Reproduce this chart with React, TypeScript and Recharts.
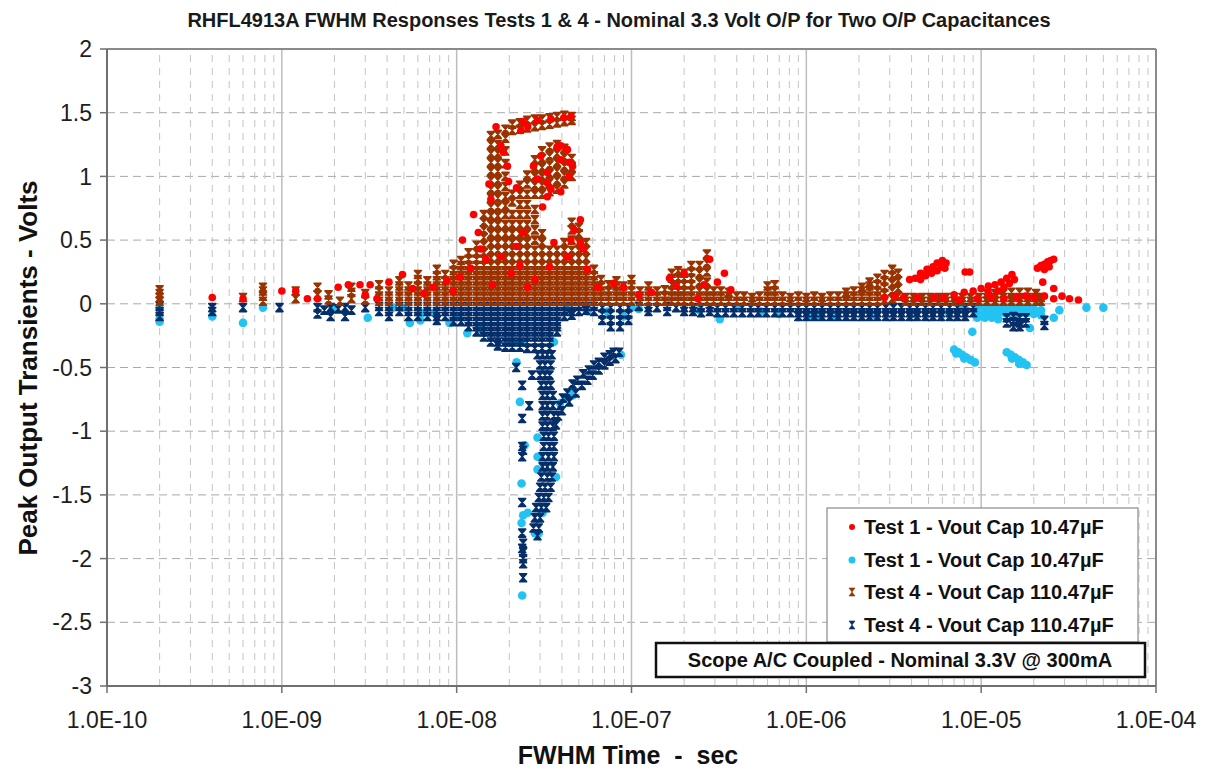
import React from "react";
import { ScatterChart, Scatter, XAxis, YAxis, CartesianGrid, ReferenceLine } from "recharts";

type Col = [number, number[]];
type Pt = [number, number];

const chartTitle = "RHFL4913A FWHM Responses Tests 1 & 4 - Nominal 3.3 Volt O/P for Two O/P Capacitances";
const xTitle = "FWHM Time  -  sec";
const yTitle = "Peak Output Transients - Volts";
const noteText = "Scope A/C Coupled - Nominal 3.3V @ 300mA";
const seriesNames = [
  "Test 1 - Vout Cap 10.47µF",
  "Test 1 - Vout Cap 10.47µF",
  "Test 4 - Vout Cap 110.47µF",
  "Test 4 - Vout Cap 110.47µF",
];
const seriesColors = ["#ff0000", "#22c3f3", "#993300", "#062f6a"];

const xTicks = [1e-10, 1e-9, 1e-8, 1e-7, 1e-6, 1e-5, 1e-4];
const yTicks = [-3, -2.5, -2, -1.5, -1, -0.5, 0, 0.5, 1, 1.5, 2];
const decadeLines = [1e-9, 1e-8, 1e-7, 1e-6, 1e-5];
const minorDecades = [1e-10, 1e-9, 1e-8, 1e-7, 1e-6, 1e-5];
const minorMultipliers = [2, 3, 4, 5, 6, 7, 8, 9];

// Test 1 positive peaks (red)
const test1Pos: Pt[] = [
  [4e-10,0.05],[6e-10,0.04],[1e-9,0.1],[1.2e-9,0.1],[1.4e-9,0.04],[1.6e-9,0.04],[2.1e-9,0.13],[2.4e-9,0.15],[2.8e-9,0.15],[3e-9,0.07],[3.2e-9,0.15],[3.5e-9,0.04],[4.1e-9,0.17],[4.9e-9,0.23],[5.6e-9,0.12],[6.5e-9,0.08],[7.3e-9,0.13],[8.8e-9,0.18],[9.5e-9,0.1],[1.04e-8,0.21],
  [1.08e-8,0.5],[1.2e-8,0.28],[1.25e-8,0.7],[1.33e-8,0.56],[1.37e-8,0.43],[1.47e-8,0.35],[1.53e-8,0.94],[1.57e-8,0.82],[1.6e-8,0.15],[1.68e-8,1.39],[1.79e-8,1.24],[1.79e-8,0.37],[1.85e-8,1.19],[1.95e-8,1.08],[1.98e-8,0.96],[2.05e-8,0.24],[2.2e-8,0.91],[2.2e-8,0.45],[2.3e-8,0.3],
  [2.33e-8,1.36],[2.4e-8,1.43],[2.4e-8,0.56],[2.55e-8,1.39],[2.55e-8,0.13],[2.75e-8,1.08],[2.8e-8,0.19],[2.9e-8,1.44],[2.9e-8,0.98],[3.03e-8,1.16],[3.1e-8,0.76],[3.3e-8,0.95],[3.3e-8,1.03],[3.3e-8,0.84],[3.4e-8,0.29],[3.46e-8,1.45],[3.46e-8,0.9],[3.6e-8,0.48],
  [3.75e-8,1.23],[3.94e-8,1.24],[3.94e-8,1.13],[3.94e-8,0.88],[4.1e-8,1.46],[4.3e-8,1.21],[4.3e-8,0.37],[4.4e-8,1.11],[4.4e-8,1.0],[4.5e-8,1.47],[4.6e-8,1.08],[4.7e-8,0.58],[4.5e-8,0.5],[5.1e-8,0.66],[5.1e-8,0.48],[5.3e-8,0.43],[5.6e-8,0.27],[6.4e-8,0.13],[7.9e-8,0.16],[9e-8,0.13],
  [1.1e-7,0.07],[1.3e-7,0.09],[1.65e-7,0.2],[1.8e-7,0.14],[2e-7,0.24],[2.4e-7,0.04],[2.6e-7,0.15],[2.8e-7,0.35],[3.1e-7,0.17],[3.4e-7,0.24],[3.7e-7,0.11],
  [2.8e-6,0.05],[3.2e-6,0.06],[3.6e-6,0.05],[4.3e-6,0.05],[5.4e-6,0.05],[6.1e-6,0.05],
  [3.9e-6,0.19],[4.2e-6,0.2],[4.5e-6,0.19],[4.5e-6,0.24],[4.8e-6,0.22],[4.9e-6,0.27],[5.2e-6,0.24],[5.3e-6,0.29],[5.6e-6,0.26],[5.6e-6,0.32],[5.9e-6,0.29],[6e-6,0.34],[6.3e-6,0.32],[6.2e-6,0.28],
  [8.1e-6,0.25],[8.6e-6,0.25],
  [7e-6,0.07],[8e-6,0.09],[9e-6,0.1],[1e-5,0.12],[1.1e-5,0.14],[1.2e-5,0.15],[1.3e-5,0.17],[1.4e-5,0.2],[1.5e-5,0.23],[1.45e-5,0.16],[1.25e-5,0.1],[1.1e-5,0.08],[1.55e-5,0.19],[1.35e-5,0.13],
  [7.5e-6,0.03],[9.5e-6,0.04],[1.15e-5,0.05],[1.35e-5,0.04],[1.6e-5,0.05],[1.8e-5,0.06],[2e-5,0.05],[2.25e-5,0.17],[2.6e-5,0.12],[2.6e-5,0.04],[2.3e-5,0.06],[2.9e-5,0.06],[3.2e-5,0.04],[3.6e-5,0.03],
  [2.1e-5,0.28],[2.2e-5,0.3],[2.3e-5,0.31],[2.4e-5,0.33],[2.5e-5,0.34],[2.6e-5,0.35],[2.3e-5,0.27],[2.45e-5,0.29],
];

// Test 1 negative peaks (light blue)
const test1Neg: Pt[] = [
  [2e-10,-0.04],[2e-10,-0.08],[2e-10,-0.12],[2e-10,-0.14],[4e-10,-0.1],[6e-10,-0.15],[7.8e-10,-0.03],[1.95e-9,-0.03],[3.1e-9,-0.11],[4.3e-9,-0.03],[4.9e-9,-0.03],[5.4e-9,-0.15],[6.2e-9,-0.13],[6.4e-9,-0.07],[7.4e-9,-0.07],[9.1e-9,-0.15],[1e-8,-0.1],[1.15e-8,-0.23],[1.37e-8,-0.2],
  [2.05e-8,-0.3],[2.2e-8,-0.3],[2.4e-8,-0.3],[2.2e-8,-0.46],[2.3e-8,-0.77],[2.45e-8,-1.11],[2.35e-8,-1.41],[2.35e-8,-1.72],[2.8e-8,-1.8],[2.37e-8,-2.29],[2.4e-8,-1.66],[2.55e-8,-1.64],[2.95e-8,-1.8],[3.1e-8,-1.64],[2.9e-8,-1.05],[2.9e-8,-1.2],[2.9e-8,-1.3],[3.7e-8,-1.36],[3.6e-8,-0.3],
  [3.9e-8,-0.78],[4.2e-8,-0.74],[4.5e-8,-0.69],[4.6e-8,-0.72],[8.7e-8,-0.4],[4.3e-8,-0.05],[5.6e-8,-0.06],[7.3e-8,-0.06],[9e-8,-0.1],[1e-7,-0.03],[1.1e-7,-0.04],
  [2.45e-7,-0.05],[3.2e-7,-0.12],[4e-7,-0.03],[5.5e-7,-0.06],[7e-7,-0.08],[1.04e-6,-0.1],[1.2e-6,-0.1],[1.5e-6,-0.1],[2.5e-6,-0.09],[4e-6,-0.08],[6.5e-6,-0.07],
  [7.6e-6,-0.02],[8.2e-6,-0.05],[8.9e-6,-0.22],[9.5e-6,-0.03],[9.5e-6,-0.07],[9.5e-6,-0.11],[1.05e-5,-0.03],[1.05e-5,-0.07],[1.05e-5,-0.11],[1.15e-5,-0.03],[1.15e-5,-0.07],[1.15e-5,-0.11],[1.25e-5,-0.03],[1.25e-5,-0.07],[1.25e-5,-0.12],
  [1.35e-5,-0.03],[1.35e-5,-0.07],[1.45e-5,-0.03],[1.45e-5,-0.07],[1.55e-5,-0.03],[1.55e-5,-0.07],[1.7e-5,-0.03],[1.7e-5,-0.07],[1.85e-5,-0.03],[1.85e-5,-0.07],[2e-5,-0.04],[2e-5,-0.08],[2.2e-5,-0.05],[2.2e-5,-0.09],[1.9e-5,-0.19],[2.6e-5,-0.11],[2.8e-5,-0.05],[4e-5,-0.03],[5e-5,-0.03],
  [7e-6,-0.36],[7.2e-6,-0.39],[7.4e-6,-0.38],[7.8e-6,-0.4],[8e-6,-0.43],[8.2e-6,-0.42],[8.7e-6,-0.44],[9.2e-6,-0.46],
  [1.4e-5,-0.38],[1.48e-5,-0.4],[1.5e-5,-0.43],[1.56e-5,-0.42],[1.64e-5,-0.44],[1.65e-5,-0.47],[1.73e-5,-0.46],[1.82e-5,-0.48],
];

// Test 4 positive peaks (brown)
const test4PosCols: Col[] = [
  [2e-10,[0.02,0.05,0.08,0.11]],[6e-10,[0.05]],[7.8e-10,[0.02,0.06,0.1,0.13]],[1.2e-9,[0.04,0.1]],[1.6e-9,[0.07,0.13]],[1.85e-9,[0.03,0.07]],[2.15e-9,[0.02]],[2.5e-9,[0.04,0.09,0.13]],[3.0e-9,[0.03,0.08]],
  [3.6e-9,[0.02,0.06,0.1,0.15]],[4.1e-9,[0.02,0.06,0.1]],[4.7e-9,[0.02,0.06,0.1,0.14,0.18]],[5.3e-9,[0.02,0.06,0.1,0.14]],[6.0e-9,[0.02,0.06,0.1,0.14,0.19,0.23]],[6.8e-9,[0.02,0.06,0.1,0.14,0.18]],
  [7.7e-9,[0.02,0.06,0.1,0.14,0.18,0.22,0.27]],[8.6e-9,[0.02,0.06,0.1,0.14,0.18,0.23]],[9.6e-9,[0.02,0.06,0.1,0.14,0.18,0.22,0.26,0.31]],[10.6e-9,[0.02,0.06,0.1,0.14,0.18,0.22,0.26,0.3,0.34]],
  [11.7e-9,[0.02,0.06,0.1,0.14,0.18,0.22,0.26,0.3,0.35,0.4]],[13e-9,[0.02,0.06,0.1,0.14,0.18,0.22,0.26,0.3,0.35,0.4,0.46]],
  [14.3e-9,[0.02,0.06,0.1,0.14,0.18,0.22,0.26,0.3,0.35,0.4,0.46,0.52,0.58,0.64,0.7]],
  [15.7e-9,[0.02,0.06,0.1,0.14,0.18,0.22,0.26,0.3,0.36,0.42,0.48,0.55,0.62,0.69,0.76,0.83,0.9,0.97,1.04,1.11,1.18,1.25,1.32]],
  [17.2e-9,[0.02,0.06,0.1,0.14,0.18,0.22,0.26,0.3,0.36,0.42,0.48,0.55,0.62,0.69,0.76,0.83,0.9,0.97,1.04,1.11,1.18,1.25,1.33]],
  [19e-9,[0.02,0.06,0.1,0.14,0.18,0.22,0.26,0.3,0.36,0.42,0.48,0.55,0.62,0.7,0.77,0.84,0.92,1.0,1.1,1.2,1.3,1.37]],
  [20.8e-9,[0.02,0.06,0.1,0.14,0.18,0.22,0.26,0.3,0.36,0.42,0.48,0.55,0.62,0.7,0.8,0.86,1.36,1.41]],
  [23e-9,[0.02,0.06,0.1,0.14,0.18,0.22,0.26,0.3,0.36,0.42,0.48,0.55,0.62,0.7,0.78,0.86,0.93,1.37,1.42]],
  [25.3e-9,[0.02,0.06,0.1,0.14,0.18,0.22,0.26,0.3,0.36,0.42,0.48,0.55,0.62,0.7,0.78,0.86,0.94,1.01,1.38,1.44]],
  [28e-9,[0.02,0.06,0.1,0.14,0.18,0.22,0.26,0.3,0.36,0.42,0.5,0.58,0.66,0.74,0.86,0.93,1.0,1.07,1.13,1.39,1.45]],
  [30.8e-9,[0.02,0.06,0.1,0.14,0.18,0.22,0.26,0.3,0.36,0.42,0.48,0.55,0.86,0.93,1.0,1.07,1.14,1.2,1.4,1.45]],
  [34e-9,[0.02,0.06,0.1,0.14,0.18,0.22,0.26,0.3,0.36,0.42,0.88,0.95,1.02,1.09,1.16,1.23,1.41,1.46]],
  [37.5e-9,[0.02,0.06,0.1,0.14,0.18,0.22,0.26,0.3,0.36,0.42,0.9,0.97,1.04,1.11,1.18,1.25,1.42,1.47]],
  [41.3e-9,[0.02,0.06,0.1,0.14,0.18,0.22,0.26,0.3,0.36,0.42,0.48,0.94,1.01,1.08,1.15,1.22,1.43,1.48]],
  [45.5e-9,[0.02,0.06,0.1,0.14,0.18,0.22,0.26,0.3,0.36,0.42,0.5,0.58,0.64,1.0,1.07,1.14,1.44,1.47]],
  [50e-9,[0.02,0.06,0.1,0.14,0.18,0.22,0.26,0.3,0.36,0.42,0.48,0.55,0.6]],
  [55e-9,[0.02,0.06,0.1,0.14,0.18,0.22,0.26,0.3,0.36,0.42,0.48]],
  [61e-9,[0.02,0.06,0.1,0.14,0.18,0.22,0.27]],[67e-9,[0.02,0.06,0.1,0.14,0.19]],[74e-9,[0.02,0.06,0.1,0.15]],[82e-9,[0.02,0.06,0.1,0.14,0.18]],[90e-9,[0.02,0.06,0.1,0.14]],
  [100e-9,[0.02,0.06,0.1,0.15,0.19]],[112e-9,[0.02,0.06,0.1]],[125e-9,[0.02,0.06,0.1,0.14]],[140e-9,[0.02,0.06,0.1]],[155e-9,[0.02,0.06,0.11]],
  [170e-9,[0.02,0.06,0.1,0.15,0.2,0.24]],[185e-9,[0.02,0.06,0.1,0.15,0.2,0.26]],[200e-9,[0.02,0.06,0.1,0.15,0.2,0.24]],[220e-9,[0.02,0.06,0.1,0.15,0.2,0.25,0.3]],
  [245e-9,[0.02,0.06,0.1,0.17,0.24,0.3]],[270e-9,[0.02,0.06,0.1,0.17,0.25,0.32,0.39]],[295e-9,[0.02,0.06,0.1]],[325e-9,[0.02,0.06,0.1]],[360e-9,[0.02,0.06,0.09]],
  [400e-9,[0.02,0.06]],[440e-9,[0.02,0.06]],[490e-9,[0.02,0.05]],[540e-9,[0.02,0.06]],[600e-9,[0.02,0.06,0.1,0.14]],[660e-9,[0.02,0.06,0.1,0.15]],[730e-9,[0.02,0.06]],[810e-9,[0.02,0.05]],[900e-9,[0.02,0.06]],
  [1.0e-6,[0.02,0.05]],[1.11e-6,[0.02,0.06]],[1.23e-6,[0.02,0.05]],[1.37e-6,[0.02,0.06]],[1.52e-6,[0.02,0.06]],[1.69e-6,[0.02,0.06,0.09]],[1.87e-6,[0.02,0.06,0.1]],
  [2.08e-6,[0.02,0.06,0.1,0.13]],[2.3e-6,[0.02,0.06,0.1,0.14,0.17]],[2.55e-6,[0.02,0.06,0.1,0.15,0.2]],[2.8e-6,[0.03,0.08,0.13,0.18,0.23]],[3.1e-6,[0.04,0.1,0.16,0.22,0.27]],[3.35e-6,[0.06,0.12,0.18,0.24]],
  [3.7e-6,[0.02,0.05]],[4.1e-6,[0.02,0.05]],[4.6e-6,[0.02,0.05]],[5.1e-6,[0.02,0.05]],[5.7e-6,[0.02,0.05]],[6.3e-6,[0.02,0.05]],[7.0e-6,[0.02,0.05]],[7.8e-6,[0.02,0.05]],[8.7e-6,[0.02,0.05]],[9.7e-6,[0.02,0.05]],
  [10.8e-6,[0.02,0.05,0.08]],[12e-6,[0.02,0.05,0.08]],[13.4e-6,[0.02,0.05,0.08]],[14.9e-6,[0.02,0.05,0.09]],[16.6e-6,[0.02,0.05,0.09]],[18.5e-6,[0.02,0.05,0.09]],[20.6e-6,[0.02,0.05,0.08]],[22e-6,[0.02,0.05]],
];

// Test 4 negative peaks (dark blue) – dense bands by column
const test4NegCols: Col[] = [
  [2e-10,[-0.02,-0.06,-0.1]],[4e-10,[-0.03,-0.06]],[6e-10,[-0.03]],[9.7e-10,[-0.03]],[1.6e-9,[-0.03,-0.08]],[1.75e-9,[-0.05]],[1.9e-9,[-0.03,-0.1]],[2.1e-9,[-0.04]],[2.3e-9,[-0.03,-0.1]],[2.5e-9,[-0.05]],[3.0e-9,[-0.03]],
  [3.6e-9,[-0.02,-0.06]],[4.1e-9,[-0.02,-0.06,-0.1]],[4.7e-9,[-0.02,-0.06]],[5.3e-9,[-0.02,-0.06,-0.1]],[6.0e-9,[-0.02,-0.06,-0.1]],[6.8e-9,[-0.02,-0.06,-0.1]],[7.7e-9,[-0.02,-0.06,-0.1,-0.13]],[8.6e-9,[-0.02,-0.06,-0.1]],
  [9.6e-9,[-0.02,-0.06,-0.1,-0.14]],[10.6e-9,[-0.02,-0.06,-0.1,-0.14]],[11.7e-9,[-0.02,-0.06,-0.1,-0.14,-0.18]],[13e-9,[-0.02,-0.06,-0.1,-0.14,-0.18,-0.22]],[14.3e-9,[-0.02,-0.06,-0.1,-0.14,-0.18,-0.22,-0.26]],
  [15.7e-9,[-0.02,-0.06,-0.1,-0.14,-0.18,-0.22,-0.26,-0.3]],[17.2e-9,[-0.02,-0.06,-0.1,-0.14,-0.18,-0.22,-0.26,-0.3,-0.33]],[19e-9,[-0.02,-0.06,-0.1,-0.14,-0.18,-0.22,-0.26,-0.3,-0.34]],
  [20.8e-9,[-0.02,-0.06,-0.1,-0.14,-0.18,-0.22,-0.26,-0.3,-0.34]],[23e-9,[-0.02,-0.06,-0.1,-0.14,-0.18,-0.22,-0.26,-0.3,-0.34]],[25.3e-9,[-0.02,-0.06,-0.1,-0.14,-0.18,-0.22,-0.26,-0.3,-0.35]],
  [28e-9,[-0.02,-0.06,-0.1,-0.14,-0.18,-0.22,-0.26,-0.3,-0.35]],[30.8e-9,[-0.02,-0.06,-0.1,-0.14,-0.18,-0.22,-0.26,-0.3,-0.35]],[34e-9,[-0.02,-0.06,-0.1,-0.14,-0.18,-0.22,-0.26,-0.3,-0.35]],
  [37.5e-9,[-0.02,-0.06,-0.1,-0.14,-0.18,-0.22]],[41.3e-9,[-0.02,-0.06,-0.1]],[45.5e-9,[-0.02,-0.06,-0.09]],[50e-9,[-0.02,-0.06]],[55e-9,[-0.02,-0.05]],[61e-9,[-0.02,-0.06]],
  [68e-9,[-0.03,-0.08,-0.13]],[76e-9,[-0.03,-0.08,-0.13,-0.18]],[86e-9,[-0.03,-0.08,-0.13,-0.18]],[96e-9,[-0.03,-0.08,-0.13]],
  [110e-9,[-0.02]],[125e-9,[-0.03,-0.06]],[140e-9,[-0.03]],[160e-9,[-0.02,-0.06]],[180e-9,[-0.03]],[200e-9,[-0.03,-0.06]],[225e-9,[-0.03,-0.06]],[250e-9,[-0.03,-0.07]],[280e-9,[-0.03,-0.06]],
  [310e-9,[-0.03,-0.07]],[345e-9,[-0.03,-0.07]],[385e-9,[-0.03,-0.07]],[430e-9,[-0.03,-0.07]],[480e-9,[-0.03,-0.07]],[530e-9,[-0.03,-0.07]],[590e-9,[-0.03,-0.07]],[660e-9,[-0.03,-0.07]],[730e-9,[-0.03,-0.07]],[810e-9,[-0.03,-0.07]],
  [900e-9,[-0.03,-0.07,-0.1]],[1.0e-6,[-0.03,-0.07,-0.1]],[1.11e-6,[-0.03,-0.07,-0.1]],[1.23e-6,[-0.03,-0.07,-0.1]],[1.37e-6,[-0.03,-0.07,-0.1]],[1.52e-6,[-0.03,-0.07,-0.1]],[1.69e-6,[-0.03,-0.07,-0.1]],
  [1.87e-6,[-0.03,-0.07,-0.1]],[2.08e-6,[-0.03,-0.07,-0.1]],[2.3e-6,[-0.03,-0.07,-0.1]],[2.55e-6,[-0.03,-0.07,-0.1]],[2.85e-6,[-0.03,-0.07,-0.1]],[3.15e-6,[-0.03,-0.07,-0.1]],[3.5e-6,[-0.03,-0.07,-0.1]],
  [3.9e-6,[-0.03,-0.07,-0.1]],[4.3e-6,[-0.03,-0.07,-0.1]],[4.8e-6,[-0.03,-0.07,-0.1]],[5.3e-6,[-0.03,-0.07,-0.1]],[5.9e-6,[-0.03,-0.07,-0.1]],[6.6e-6,[-0.03,-0.07,-0.1]],[7.3e-6,[-0.03,-0.07,-0.1]],[8.1e-6,[-0.03,-0.07,-0.1]],[9.0e-6,[-0.03,-0.07]],
  [14e-6,[-0.11,-0.15]],[15.3e-6,[-0.1,-0.14,-0.18]],[16.6e-6,[-0.11,-0.15,-0.18]],[18e-6,[-0.11,-0.15]],[23e-6,[-0.13,-0.17]],
];

// Test 4 negative peaks (dark blue) – the deep transient spike
const test4NegSpike: Pt[] = [
  [2.9e-8,-0.4],[3.1e-8,-0.4],[3.3e-8,-0.4],[3.5e-8,-0.4],[3.0e-8,-0.48],[3.2e-8,-0.48],[3.45e-8,-0.48],[3.0e-8,-0.56],[3.2e-8,-0.56],[3.4e-8,-0.56],
  [3.05e-8,-0.64],[3.25e-8,-0.64],[3.45e-8,-0.64],[3.1e-8,-0.72],[3.3e-8,-0.72],[3.55e-8,-0.72],[3.1e-8,-0.8],[3.3e-8,-0.8],[3.55e-8,-0.8],[3.1e-8,-0.88],[3.3e-8,-0.88],[3.6e-8,-0.88],
  [3.1e-8,-0.96],[3.3e-8,-0.96],[3.55e-8,-0.96],[3.15e-8,-1.04],[3.35e-8,-1.04],[3.6e-8,-1.04],[3.15e-8,-1.12],[3.4e-8,-1.12],[3.6e-8,-1.12],[3.1e-8,-1.2],[3.35e-8,-1.2],[3.6e-8,-1.2],
  [3.1e-8,-1.28],[3.3e-8,-1.28],[3.55e-8,-1.28],[3.05e-8,-1.36],[3.3e-8,-1.36],[3.5e-8,-1.36],[3.0e-8,-1.44],[3.2e-8,-1.44],[3.45e-8,-1.44],[2.95e-8,-1.52],[3.15e-8,-1.52],[3.35e-8,-1.52],
  [2.85e-8,-1.6],[3.05e-8,-1.6],[3.25e-8,-1.6],[2.8e-8,-1.68],[3.0e-8,-1.68],[2.75e-8,-1.76],[2.95e-8,-1.76],[2.9e-8,-1.82],
  [3.8e-8,-0.88],[3.9e-8,-0.8],[4.05e-8,-0.74],[4.3e-8,-0.7],[4.6e-8,-0.63],[4.9e-8,-0.6],[5.3e-8,-0.55],[5.7e-8,-0.52],[6.1e-8,-0.48],[6.5e-8,-0.46],[7e-8,-0.42],[7.5e-8,-0.4],[7.9e-8,-0.38],[8.5e-8,-0.38],
  [4.0e-8,-0.84],[4.4e-8,-0.77],[4.8e-8,-0.7],[5.2e-8,-0.64],[5.6e-8,-0.6],[6.0e-8,-0.56],[6.5e-8,-0.52],[7e-8,-0.48],[7.5e-8,-0.45],[8.1e-8,-0.43],[3.7e-8,-0.95],
  [2.19e-8,-0.5],[2.37e-8,-0.64],[2.6e-8,-0.8],[2.7e-8,-0.56],[2.37e-8,-0.9],[2.37e-8,-1.12],[2.4e-8,-1.15],[2.37e-8,-1.2],[2.37e-8,-1.56],[2.37e-8,-1.8],[2.4e-8,-1.88],[2.37e-8,-1.92],[2.4e-8,-1.95],[2.4e-8,-2.0],[2.4e-8,-2.04],[2.4e-8,-2.15],
];

const fromCols = (cols: Col[]) => cols.flatMap(([x, ys]) => ys.map((y) => ({ x, y })));
const fromPts = (pts: Pt[]) => pts.map(([x, y]) => ({ x, y }));

const redData = fromPts(test1Pos);
const cyanData = fromPts(test1Neg);
const brownData = fromCols(test4PosCols);
const navyData = [...fromCols(test4NegCols), ...fromPts(test4NegSpike)];

const minorLines = minorDecades.flatMap((d) => minorMultipliers.map((m) => m * d));

const FONT = "'Liberation Sans', Arial, Helvetica, sans-serif";

const dotShape = (color: string, r: number) => (p: any) =>
  p.cx == null ? <g /> : <circle cx={p.cx} cy={p.cy} r={r} fill={color} />;
const hourglassShape = (color: string) => (p: any) => {
  if (p.cx == null) return <g />;
  const { cx, cy } = p;
  return (
    <path
      d={`M${cx - 3.5},${cy - 4}H${cx + 3.5}L${cx - 3.5},${cy + 4}H${cx + 3.5}Z`}
      fill={color}
      stroke={color}
      strokeWidth={1.6}
      strokeLinejoin="round"
    />
  );
};

const formatX = (v: number) => {
  const e = Math.round(Math.log10(v));
  const s = String(Math.abs(e)).padStart(2, "0");
  return `1.0E${e < 0 ? "-" : "+"}${s}`;
};

const W = 1190;
const H = 763;

function LegendMarker({ i, x, y }: { i: number; x: number; y: number }) {
  const c = seriesColors[i];
  if (i === 0) return <circle cx={x} cy={y} r={3} fill={c} />;
  if (i === 1) return <circle cx={x} cy={y} r={3.5} fill={c} />;
  return <path d={`M${x - 3},${y - 4}H${x + 3}L${x - 3},${y + 4}H${x + 3}Z`} fill={c} stroke={c} strokeWidth={0.6} />;
}

export default function App() {
  const rowsY = [519, 552, 584, 617];
  return (
    <div style={{ position: "relative", width: W, height: H, background: "#fff", fontFamily: FONT }}>
      <ScatterChart width={W} height={H} margin={{ top: 41, right: 42, bottom: 25, left: 39 }}>
        <CartesianGrid horizontal vertical={false} stroke="#a9a9a9" strokeDasharray="8 5" />
        {minorLines.map((v, i) => (
          <ReferenceLine key={"m" + i} x={v} stroke="#c4c4c4" strokeDasharray="7 6" strokeWidth={1} />
        ))}
        {decadeLines.map((v) => (
          <ReferenceLine key={"d" + v} x={v} stroke="#bdbdbd" strokeWidth={1.5} />
        ))}
        <ReferenceLine y={2} stroke="#8a8a8a" strokeWidth={2} />
        <ReferenceLine x={1e-4} stroke="#8a8a8a" strokeWidth={2} />
        <XAxis
          dataKey="x"
          type="number"
          scale="log"
          domain={[1e-10, 1e-4]}
          ticks={xTicks}
          interval={0}
          allowDataOverflow
          tickFormatter={formatX}
          height={60}
          tickSize={7}
          tickMargin={19}
          axisLine={{ stroke: "#6f6f6f", strokeWidth: 2 }}
          tickLine={{ stroke: "#6f6f6f", strokeWidth: 1.5 }}
          tick={{ fontSize: 23, fill: "#1e1e1e", fontFamily: FONT }}
        />
        <YAxis
          dataKey="y"
          type="number"
          domain={[-3, 2]}
          ticks={yTicks}
          interval={0}
          allowDataOverflow
          width={60}
          tickSize={7}
          tickMargin={8}
          axisLine={{ stroke: "#6f6f6f", strokeWidth: 2 }}
          tickLine={{ stroke: "#6f6f6f", strokeWidth: 1.5 }}
          tick={{ fontSize: 23, fill: "#1e1e1e", fontFamily: FONT }}
        />
        <Scatter name={seriesNames[1]} data={cyanData} fill={seriesColors[1]} shape={dotShape(seriesColors[1], 4.3)} isAnimationActive={false} />
        <Scatter name={seriesNames[3]} data={navyData} fill={seriesColors[3]} shape={hourglassShape(seriesColors[3])} isAnimationActive={false} />
        <Scatter name={seriesNames[2]} data={brownData} fill={seriesColors[2]} shape={hourglassShape(seriesColors[2])} isAnimationActive={false} />
        <Scatter name={seriesNames[0]} data={redData} fill={seriesColors[0]} shape={dotShape(seriesColors[0], 3.8)} isAnimationActive={false} />
      </ScatterChart>
      <svg width={W} height={H} style={{ position: "absolute", left: 0, top: 0, pointerEvents: "none" }} fontFamily={FONT}>
        <text x={611} y={12} textAnchor="middle" dominantBaseline="central" fontSize={20} fontWeight="bold" fill="#1a1a1a">
          {chartTitle}
        </text>
        <text
          x={20}
          y={360}
          textAnchor="middle"
          dominantBaseline="central"
          fontSize={26}
          fontWeight="bold"
          fill="#111"
          transform="rotate(-90 20 360)"
        >
          {yTitle}
        </text>
        <text x={620} y={747} textAnchor="middle" dominantBaseline="central" fontSize={25} fontWeight="bold" fill="#111" style={{ whiteSpace: "pre" }}>
          {xTitle}
        </text>
        <rect x={819} y={500} width={311} height={134} fill="#fff" stroke="#8a8a8a" strokeWidth={1.2} />
        {seriesNames.map((n, i) => (
          <g key={i}>
            <LegendMarker i={i} x={844} y={rowsY[i]} />
            <text x={856} y={rowsY[i]} dominantBaseline="central" fontSize={20} fontWeight="bold" fill="#111">
              {n}
            </text>
          </g>
        ))}
        <rect x={648} y={635} width={489} height={34} fill="#fff" stroke="#111" strokeWidth={2.5} />
        <text x={892} y={652} textAnchor="middle" dominantBaseline="central" fontSize={20} fontWeight="bold" fill="#111">
          {noteText}
        </text>
      </svg>
    </div>
  );
}
